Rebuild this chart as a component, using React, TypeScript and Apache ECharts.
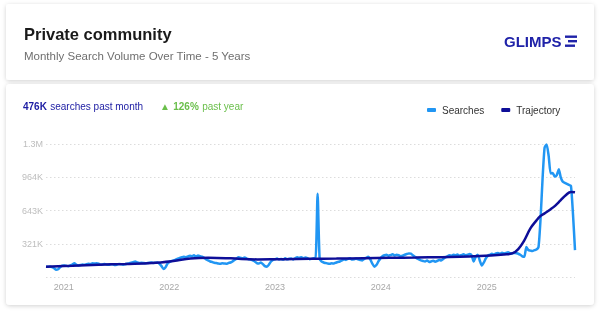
import React, { useEffect, useRef } from "react";
import * as echarts from "echarts";

// Weekly search volume (thousands), starting first week of Nov 2020
const searchStart = [2020, 10, 1];
const searchesK = [
  100, 98, 102, 95, 85, 70, 75, 95, 110, 112,
  108, 105, 112, 120, 132, 118, 112, 115, 120, 118,
  124, 128, 125, 132, 130, 134, 128, 118, 122, 126,
  120, 118, 124, 122, 115, 120, 126, 124, 118, 122,
  128, 132, 138, 142, 150, 140, 135, 138, 136, 132,
  135, 138, 140, 136, 138, 140, 128, 105, 78, 95,
  130, 145, 155, 160, 168, 178, 185, 190, 195, 192,
  198, 205, 200, 210, 198, 208, 200, 196, 185, 170,
  160, 150, 145, 138, 135, 130, 128, 132, 130, 128,
  135, 140, 150, 165, 178, 190, 185, 180, 188, 178,
  172, 168, 160, 150, 135, 130, 140, 125, 105, 100,
  120, 150, 165, 172, 178, 170, 175, 168, 180, 172,
  176, 178, 170, 182, 190, 185, 192, 180, 188, 182,
  172, 175, 180, 178, 805, 175, 150, 140, 135, 130,
  128, 132, 130, 138, 145, 150, 160, 170, 165, 175,
  180, 168, 172, 178, 170, 165, 160, 175, 185, 196,
  170, 130, 100, 115, 150, 180, 200, 210, 215, 205,
  212, 220, 208, 215, 210, 200, 205, 215, 222, 228,
  225, 210, 195, 180, 170, 160, 155, 150, 160, 145,
  150, 158, 148, 155, 165, 160, 175, 190, 200, 210,
  205, 215, 210, 218, 205, 212, 220, 208, 215, 222,
  210, 150, 195, 215, 160, 110, 140, 180, 205, 215,
  225, 218, 228, 232, 225, 235, 228, 232, 238, 230,
  228, 235, 230, 225, 215, 200, 195, 290, 260, 255,
  250, 260, 265, 290, 560, 950, 1250, 1280, 1170, 1000,
  1005, 970, 985, 1040, 960, 920, 910, 900, 890, 880,
  610, 260,
];

const trajectoryDates = [
  "2020-11-01", "2021-02-01", "2021-05-01", "2021-08-01", "2021-11-01",
  "2022-01-15", "2022-03-15", "2022-05-15", "2022-08-01", "2022-11-01",
  "2023-02-01", "2023-05-01", "2023-08-01", "2023-11-01", "2024-02-01",
  "2024-05-01", "2024-08-01", "2024-11-01", "2025-01-15", "2025-03-01",
  "2025-04-01", "2025-04-20", "2025-05-10", "2025-06-01", "2025-06-20",
  "2025-07-06", "2025-07-20", "2025-08-10", "2025-08-26", "2025-09-13",
  "2025-10-01", "2025-10-19", "2025-11-02",
];
const trajectoryK = [
  100, 108, 118, 126, 135,
  155, 178, 185, 180, 170,
  172, 176, 178, 182, 186,
  188, 192, 198, 208, 218,
  230, 270, 350, 470, 540,
  590, 615, 655, 690, 740,
  790, 822, 818,
];

const yTicksMax = 1285;
const yInterval = 321.25;

const legendNames = ["Searches", "Trajectory"];

function parseDate(s: string) {
  const [y, m, d] = s.split("-").map(Number);
  return new Date(y, m - 1, d).getTime();
}

export default function App() {
  const ref = useRef<HTMLDivElement>(null);
  useEffect(() => {
    if (!ref.current) return;
    const chart = echarts.init(ref.current, undefined, { renderer: "svg" });
    const start = new Date(searchStart[0], searchStart[1], searchStart[2]);
    const searchData = searchesK.map((v, i) => {
      const d = new Date(start.getFullYear(), start.getMonth(), start.getDate() + 7 * i);
      return [d.getTime(), v];
    });
    const trajData = trajectoryDates.map((d, i) => [parseDate(d), trajectoryK[i]]);
    const minT = searchData[0][0];
    const maxT = searchData[searchData.length - 1][0];
    const font = "'Liberation Sans', Arial, sans-serif";
    const blue = "#1c1ca3";
    const green = "#6abf4b";

    chart.setOption({
      animation: false,
      textStyle: { fontFamily: font },
      graphic: [
        {
          type: "rect",
          z: 0,
          shape: { x: 6, y: 4, width: 588, height: 76, r: 3 },
          style: { fill: "#fff", shadowBlur: 4, shadowColor: "rgba(0,0,0,0.18)", shadowOffsetY: 1 },
        },
        {
          type: "rect",
          z: 0,
          shape: { x: 6, y: 84, width: 588, height: 221, r: 4 },
          style: { fill: "#fff", shadowBlur: 4, shadowColor: "rgba(0,0,0,0.18)", shadowOffsetY: 1 },
        },
        {
          type: "text",
          z: 10,
          x: 24,
          y: 34,
          style: { text: "Private community", fontSize: 16.5, fontWeight: "bold", fill: "#1a1a1a", fontFamily: font, textVerticalAlign: "middle" },
        },
        {
          type: "text",
          z: 10,
          x: 24,
          y: 56,
          style: { text: "Monthly Search Volume Over Time - 5 Years", fontSize: 11.5, fill: "#6f6f6f", fontFamily: font, textVerticalAlign: "middle" },
        },
        {
          type: "text",
          z: 10,
          x: 504,
          y: 41,
          style: { text: "GLIMPS", fontSize: 15, fontWeight: 900, fill: "#1f22a8", fontFamily: font, textVerticalAlign: "middle" },
        },
        { type: "rect", z: 10, shape: { x: 565, y: 35.5, width: 12, height: 2.4 }, style: { fill: "#1f22a8" } },
        { type: "rect", z: 10, shape: { x: 568, y: 40, width: 9, height: 2.4 }, style: { fill: "#1f22a8" } },
        { type: "rect", z: 10, shape: { x: 565, y: 44.5, width: 10, height: 2.4 }, style: { fill: "#1f22a8" } },
        {
          type: "text",
          z: 10,
          x: 23,
          y: 106,
          style: {
            text: "{b|476K} {r|searches past month}",
            fontFamily: font,
            textVerticalAlign: "middle",
            rich: {
              b: { fontSize: 10, fontWeight: "bold", fill: blue, fontFamily: font },
              r: { fontSize: 10, fill: blue, fontFamily: font },
            },
          },
        },
        {
          type: "text",
          z: 10,
          x: 160,
          y: 106,
          style: {
            text: "{t|▲} {b|126%} {r|past year}",
            fontFamily: font,
            textVerticalAlign: "middle",
            rich: {
              t: { fontSize: 10, fill: green, fontFamily: font },
              b: { fontSize: 10, fontWeight: "bold", fill: green, fontFamily: font },
              r: { fontSize: 10, fill: green, fontFamily: font },
            },
          },
        },
      ],
      legend: {
        data: legendNames,
        left: 422,
        top: 100,
        icon: "roundRect",
        itemWidth: 9,
        itemHeight: 4,
        itemGap: 17,
        textStyle: { fontSize: 10, color: "#333", fontFamily: font, padding: [0, 0, 0, 1] },
      },
      grid: { left: 46, right: 25, top: 144, bottom: 34, containLabel: false },
      xAxis: {
        type: "time",
        min: minT,
        max: maxT,
        splitNumber: 5,
        minInterval: 365 * 24 * 3600 * 1000,
        axisLine: { show: false },
        axisTick: { show: false },
        splitLine: { show: false },
        axisLabel: {
          color: "#a8a8a8",
          fontSize: 9,
          margin: 5,
          fontFamily: font,
          showMinLabel: false,
          showMaxLabel: false,
          formatter: (val: number) => {
            const d = new Date(val);
            return d.getMonth() === 0 && d.getDate() === 1 ? String(d.getFullYear()) : "";
          },
        },
      },
      yAxis: {
        type: "value",
        min: 0,
        max: yTicksMax,
        interval: yInterval,
        axisLine: { show: false },
        axisTick: { show: false },
        splitLine: { lineStyle: { color: "#dcdcdc", width: 1, type: [1.5, 2.5] } },
        axisLabel: {
          color: "#bdbdbd",
          fontSize: 9,
          margin: 3,
          fontFamily: font,
          formatter: (v: number) => (v === 0 ? "" : v >= 1000 ? (v / 1000).toFixed(1) + "M" : Math.round(v) + "K"),
        },
      },
      series: [
        {
          name: "Searches",
          type: "line",
          data: searchData,
          showSymbol: false,
          symbol: "none",
          smooth: 0.2,
          lineStyle: { color: "#2196f3", width: 2.5 },
          itemStyle: { color: "#2196f3" },
          z: 3,
        },
        {
          name: "Trajectory",
          type: "line",
          data: trajData,
          showSymbol: false,
          symbol: "none",
          smooth: 0.4,
          lineStyle: { color: "#0e0e98", width: 2.5 },
          itemStyle: { color: "#0e0e98" },
          z: 4,
        },
      ],
    });
    return () => chart.dispose();
  }, []);
  return <div ref={ref} style={{ position: "fixed", left: 0, top: 0, width: 600, height: 311 }} />;
}
